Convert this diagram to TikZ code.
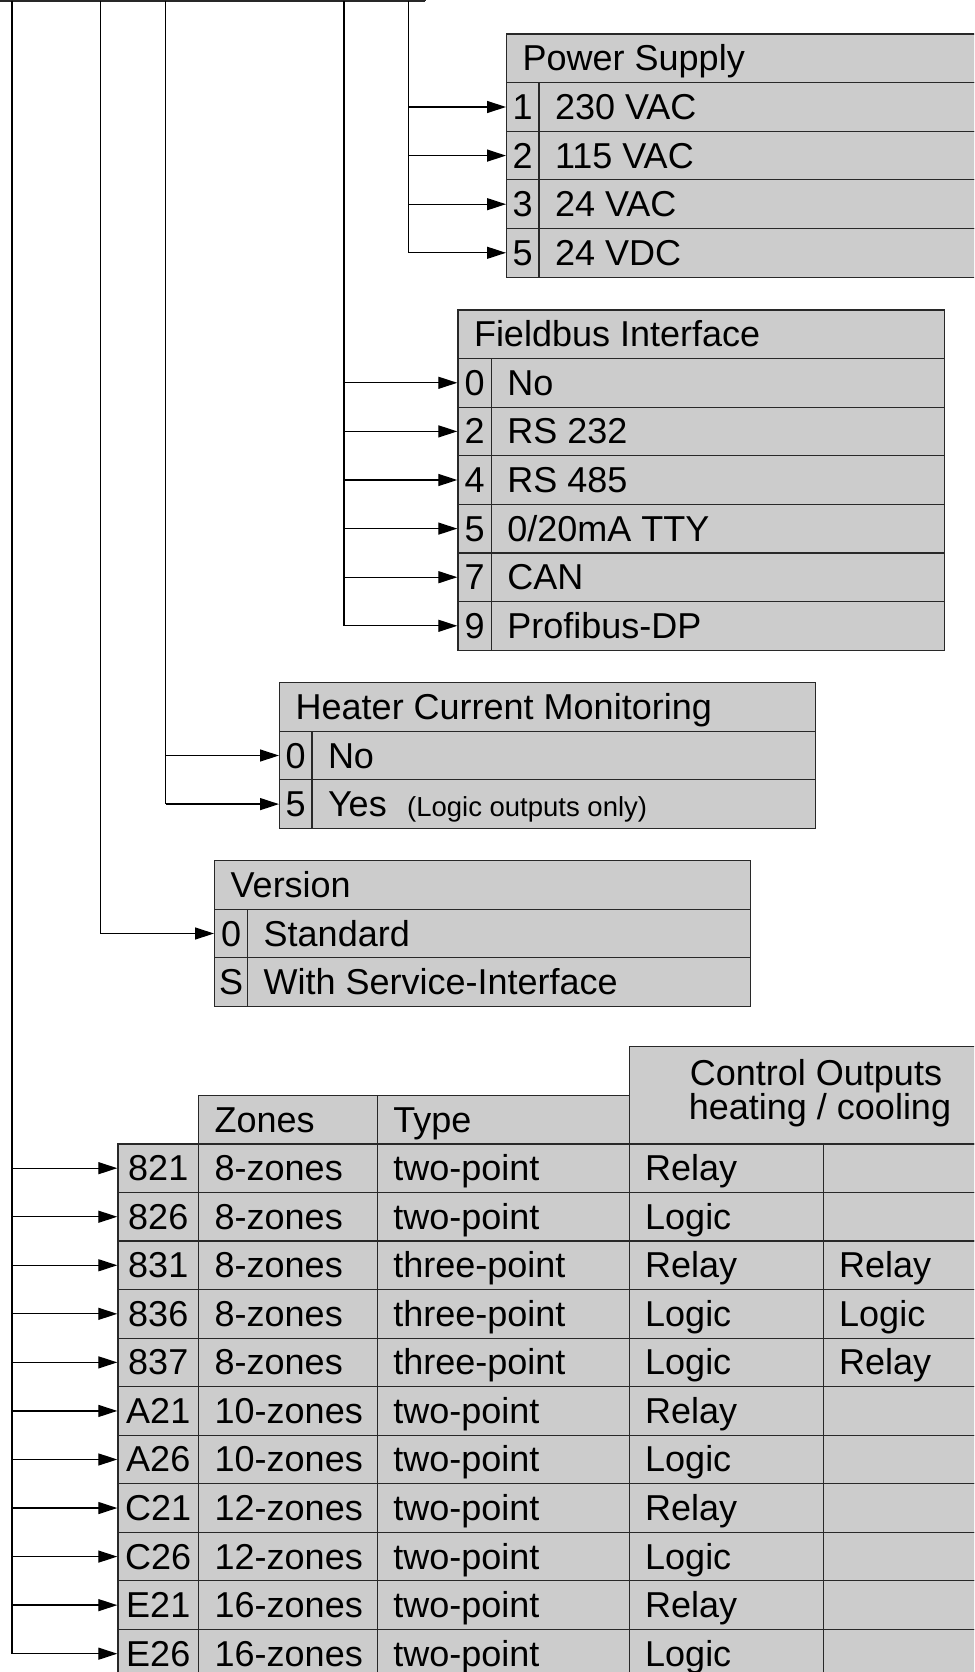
\documentclass[tikz,border=0pt]{standalone}
\usepackage{fontspec}
\setmainfont{Liberation Sans}
\usetikzlibrary{arrows.meta}
\definecolor{cellfill}{RGB}{204,204,204}
\definecolor{cellline}{RGB}{40,40,40}
\tikzset{
  cellbox/.style={draw=cellline, fill=cellfill, line width=1.2pt, rectangle, inner sep=0pt, anchor=north west},
  celltext/.style={inner sep=0pt, anchor=base west, font=\fontsize{36}{40}\selectfont},
  codetext/.style={inner sep=0pt, anchor=base, font=\fontsize{36}{40}\selectfont},
  smalltext/.style={inner sep=0pt, anchor=base west, font=\fontsize{27.5}{30}\selectfont},
  busline/.style={line width=1.4pt, black},
  arr/.style={line width=1.3pt, black, -{Triangle[length=19pt,width=12pt]}},
}
% name, x, ytop, width, height, text  (left aligned text)
\newcommand\cellL[6]{%
  \node[cellbox, minimum width=#4pt, minimum height=#5pt] (#1) at (#2,#3) {};
  \node[celltext] (#1t) at ([xshift=16.5pt,yshift=-12.5pt]#1.west) {#6};}
% centred text
\newcommand\cellC[6]{%
  \node[cellbox, minimum width=#4pt, minimum height=#5pt] (#1) at (#2,#3) {};
  \node[codetext] (#1t) at ([yshift=-12.5pt]#1.center) {#6};}
% option row: name, xleft, xdiv, xright, ytop, number, text
\newcommand\optrow[7]{%
  \pgfmathsetmacro\wa{#3-#2}\pgfmathsetmacro\wb{#4-#3}%
  \cellC{#1n}{#2}{#5}{\wa}{48.6}{#6}
  \cellL{#1v}{#3}{#5}{\wb}{48.6}{#7}}
\begin{document}
\begin{tikzpicture}[x=1pt,y=-1pt]
\useasboundingbox (0,0) rectangle (974,1672);
\clip (0,0) rectangle (974,1672);

% cut-off table at the top
\draw[line width=1.2pt, cellline] (0,1) -- (425,1);
\foreach \x in {53,85,117,150,182,214,296,328,360,393,425}
  \draw[line width=1.2pt, cellline] (\x,-2) -- (\x,1);

% bus start points
\coordinate (bus1) at (12,1);
\coordinate (bus2) at (100.7,1);
\coordinate (bus3) at (165.7,1);
\coordinate (bus4) at (344,1);
\coordinate (bus5) at (408.7,1);

% ---------- Power Supply ----------
\cellL{psh}{506}{33.5}{494}{48.6}{Power Supply}
\optrow{psa}{506}{538.3}{1000}{82.1}{1}{230 VAC}
\optrow{psb}{506}{538.3}{1000}{130.7}{2}{115 VAC}
\optrow{psc}{506}{538.3}{1000}{179.3}{3}{24 VAC}
\optrow{psd}{506}{538.3}{1000}{227.9}{5}{24 VDC}

% ---------- Fieldbus ----------
\cellL{fbh}{457.3}{309.3}{486.7}{48.6}{Fieldbus Interface}
\optrow{fba}{457.3}{490.7}{944}{357.9}{0}{No}
\optrow{fbb}{457.3}{490.7}{944}{406.5}{2}{RS 232}
\optrow{fbc}{457.3}{490.7}{944}{455.1}{4}{RS 485}
\optrow{fbd}{457.3}{490.7}{944}{503.7}{5}{0/20mA TTY}
\optrow{fbe}{457.3}{490.7}{944}{552.3}{7}{CAN}
\optrow{fbf}{457.3}{490.7}{944}{600.9}{9}{Profibus-DP}

% ---------- Heater Current Monitoring ----------
\cellL{hch}{279}{682}{535.7}{48.6}{Heater Current Monitoring}
\optrow{hca}{279}{311.3}{814.7}{730.6}{0}{No}
\optrow{hcb}{279}{311.3}{814.7}{779.2}{5}{Yes}
\node[smalltext] (hcnote) at ([xshift=20pt]hcbvt.base east) {(Logic outputs only)};

% ---------- Version ----------
\cellL{vrh}{214}{860}{535.6}{48.6}{Version}
\optrow{vra}{214}{247}{749.6}{908.6}{0}{Standard}
\optrow{vrb}{214}{247}{749.6}{957.2}{S}{With Service-Interface}

% ---------- Controller table ----------
\node[cellbox, minimum width=371.5pt, minimum height=97.3pt] (coh) at (628.5,1046) {};
\node[codetext] (coht1) at (816,1085) {Control Outputs};
\node[codetext] (coht2) at (820,1119.3) {heating / cooling};
\cellL{zoh}{198}{1094.5}{178.6}{48.8}{Zones}
\cellL{tyh}{376.6}{1094.5}{251.9}{48.8}{Type}

\foreach \k/\c/\z/\t/\h/\o [evaluate=\k as \yt using {1143.3+48.55*(\k-1)}] in {
  1/821/8-zones/two-point/Relay/,
  2/826/8-zones/two-point/Logic/,
  3/831/8-zones/three-point/Relay/Relay,
  4/836/8-zones/three-point/Logic/Logic,
  5/837/8-zones/three-point/Logic/Relay,
  6/A21/10-zones/two-point/Relay/,
  7/A26/10-zones/two-point/Logic/,
  8/C21/12-zones/two-point/Relay/,
  9/C26/12-zones/two-point/Logic/,
  10/E21/16-zones/two-point/Relay/,
  11/E26/16-zones/two-point/Logic/}{
  \cellC{code\k}{117.3}{\yt}{80.7}{48.55}{\c}
  \cellL{zone\k}{198}{\yt}{178.6}{48.55}{\z}
  \cellL{type\k}{376.6}{\yt}{251.9}{48.55}{\t}
  \cellL{heat\k}{628.5}{\yt}{194}{48.55}{\h}
  \cellL{cool\k}{822.5}{\yt}{177.5}{48.55}{\o}
}

% ---------- connectors ----------
\draw[busline, line width=2pt] (bus1) -- (bus1 |- code11.west);
\foreach \k in {1,...,11}
  \draw[arr] (bus1 |- code\k.west) -- (code\k.west);

\draw[busline] (bus2) -- (bus2 |- vran.west);
\draw[arr] (bus2 |- vran.west) -- (vran.west);

\draw[busline] (bus3) -- (bus3 |- hcbn.west);
\foreach \n in {hcan,hcbn}
  \draw[arr] (bus3 |- \n.west) -- (\n.west);

\draw[busline] (bus4) -- (bus4 |- fbfn.west);
\foreach \n in {fban,fbbn,fbcn,fbdn,fben,fbfn}
  \draw[arr] (bus4 |- \n.west) -- (\n.west);

\draw[busline] (bus5) -- (bus5 |- psdn.west);
\foreach \n in {psan,psbn,pscn,psdn}
  \draw[arr] (bus5 |- \n.west) -- (\n.west);
\end{tikzpicture}
\end{document}
